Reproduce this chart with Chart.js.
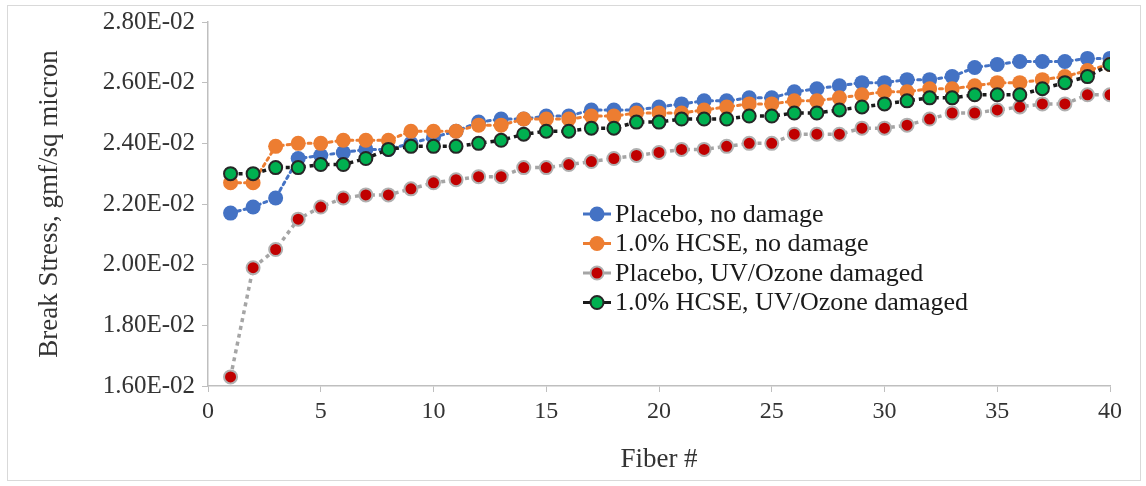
<!DOCTYPE html>
<html>
<head>
<meta charset="utf-8">
<script src="https://cdn.jsdelivr.net/npm/chart.js@4/dist/chart.umd.min.js"></script>
<style>
  html, body { margin: 0; padding: 0; background: #fff; }
  #wrap { position: relative; width: 1146px; height: 486px; }
  #frame { position: absolute; left: 7px; top: 5px; width: 1132px; height: 474px; border: 1px solid #d9d9d9; pointer-events: none; }
</style>
</head>
<body>
<div id="wrap">
  <canvas id="chart" width="1146" height="486"></canvas>
  <div id="frame"></div>
</div>
<script>
// fiber number on x
const fibers = [1,2,3,4,5,6,7,8,9,10,11,12,13,14,15,16,17,18,19,20,
                21,22,23,24,25,26,27,28,29,30,31,32,33,34,35,36,37,38,39,40];

// break stress, gmf/sq micron
const placeboNoDamage = [0.0217,0.0219,0.0222,0.0235,0.0236,0.0237,0.0238,0.0238,0.0240,0.0242,
                         0.0244,0.0247,0.0248,0.0248,0.0249,0.0249,0.0251,0.0251,0.0251,0.0252,
                         0.0253,0.0254,0.0254,0.0255,0.0255,0.0257,0.0258,0.0259,0.0260,0.0260,
                         0.0261,0.0261,0.0262,0.0265,0.0266,0.0267,0.0267,0.0267,0.0268,0.0268];
const hcseNoDamage    = [0.0227,0.0227,0.0239,0.0240,0.0240,0.0241,0.0241,0.0241,0.0244,0.0244,
                         0.0244,0.0246,0.0246,0.0248,0.0248,0.0248,0.0249,0.0249,0.0250,0.0250,
                         0.0250,0.0251,0.0252,0.0253,0.0253,0.0254,0.0254,0.0255,0.0256,0.0257,
                         0.0257,0.0258,0.0258,0.0259,0.0260,0.0260,0.0261,0.0262,0.0264,0.0266];
const placeboDamaged  = [0.0163,0.0199,0.0205,0.0215,0.0219,0.0222,0.0223,0.0223,0.0225,0.0227,
                         0.0228,0.0229,0.0229,0.0232,0.0232,0.0233,0.0234,0.0235,0.0236,0.0237,
                         0.0238,0.0238,0.0239,0.0240,0.0240,0.0243,0.0243,0.0243,0.0245,0.0245,
                         0.0246,0.0248,0.0250,0.0250,0.0251,0.0252,0.0253,0.0253,0.0256,0.0256];
const hcseDamaged     = [0.0230,0.0230,0.0232,0.0232,0.0233,0.0233,0.0235,0.0238,0.0239,0.0239,
                         0.0239,0.0240,0.0241,0.0243,0.0244,0.0244,0.0245,0.0245,0.0247,0.0247,
                         0.0248,0.0248,0.0248,0.0249,0.0249,0.0250,0.0250,0.0251,0.0252,0.0253,
                         0.0254,0.0255,0.0255,0.0256,0.0256,0.0256,0.0258,0.0260,0.0262,0.0266];

const seriesNames = ['Placebo, no damage', '1.0% HCSE, no damage',
                     'Placebo, UV/Ozone damaged', '1.0% HCSE, UV/Ozone damaged'];
const xTicks = [0, 5, 10, 15, 20, 25, 30, 35, 40];
const yTicks = [0.016, 0.018, 0.020, 0.022, 0.024, 0.026, 0.028];

const FONT = "'Liberation Serif', 'Times New Roman', serif";
const TXT = '#333333';

const pts = vals => vals.map((v, i) => ({ x: fibers[i], y: v }));

function sci(v) {
  const [m, e] = Number(v).toExponential(2).split('e');
  const sign = e[0] === '-' ? '-' : '+';
  return m + 'E' + sign + e.replace(/[+-]/, '').padStart(2, '0');
}

// legend drawn inside the plot, like the original
const insideLegend = {
  id: 'insideLegend',
  afterDatasetsDraw(chart) {
    const ctx = chart.ctx;
    const area = chart.chartArea;
    const x0 = area.left + 375;
    const y0 = area.top + 192;
    const rowH = 29.5;
    ctx.save();
    chart.data.datasets.forEach((ds, i) => {
      const y = y0 + i * rowH;
      ctx.beginPath();
      ctx.setLineDash([]);
      ctx.lineWidth = 3;
      ctx.strokeStyle = ds.borderColor;
      ctx.moveTo(x0, y);
      ctx.lineTo(x0 + 28, y);
      ctx.stroke();
      ctx.beginPath();
      ctx.arc(x0 + 14, y, ds.pointRadius, 0, Math.PI * 2);
      ctx.fillStyle = ds.pointBackgroundColor;
      ctx.fill();
      if (ds.pointBorderWidth) {
        ctx.lineWidth = ds.pointBorderWidth;
        ctx.strokeStyle = ds.pointBorderColor;
        ctx.stroke();
      }
      ctx.fillStyle = '#1a1a1a';
      ctx.font = '26px ' + FONT;
      ctx.textBaseline = 'middle';
      ctx.textAlign = 'left';
      ctx.fillText(ds.label, x0 + 32, y + 1);
    });
    ctx.restore();
  }
};

new Chart(document.getElementById('chart'), {
  type: 'line',
  data: {
    datasets: [
      {
        label: seriesNames[0],
        data: pts(placeboNoDamage),
        borderColor: '#4472C4',
        borderWidth: 3,
        borderDash: [3, 4],
        borderCapStyle: 'round',
        pointRadius: 7.5,
        pointBackgroundColor: '#4472C4',
        pointBorderColor: '#4472C4',
        pointBorderWidth: 0,
        order: 4
      },
      {
        label: seriesNames[1],
        data: pts(hcseNoDamage),
        borderColor: '#ED7D31',
        borderWidth: 3,
        borderDash: [3, 4],
        borderCapStyle: 'round',
        pointRadius: 7.5,
        pointBackgroundColor: '#ED7D31',
        pointBorderColor: '#ED7D31',
        pointBorderWidth: 0,
        order: 3
      },
      {
        label: seriesNames[2],
        data: pts(placeboDamaged),
        borderColor: '#A5A5A5',
        borderWidth: 3.5,
        borderDash: [4, 4],
        pointRadius: 6.5,
        pointBackgroundColor: '#C00000',
        pointBorderColor: '#B0B0B0',
        pointBorderWidth: 2,
        order: 2
      },
      {
        label: seriesNames[3],
        data: pts(hcseDamaged),
        borderColor: '#1a1a1a',
        borderWidth: 3.5,
        borderDash: [4, 4],
        pointRadius: 6.5,
        pointBackgroundColor: '#00B050',
        pointBorderColor: '#262626',
        pointBorderWidth: 2,
        order: 1
      }
    ]
  },
  options: {
    responsive: false,
    animation: false,
    layout: { padding: { left: 0, right: 36, top: 19, bottom: 0 } },
    plugins: { legend: { display: false }, tooltip: { enabled: false } },
    scales: {
      x: {
        type: 'linear',
        min: 0,
        max: 40,
        afterBuildTicks: s => { s.ticks = xTicks.map(v => ({ value: v })); },
        afterFit: s => { s.height = 100; },
        grid: { drawOnChartArea: false, tickLength: 6, tickColor: '#bfbfbf' },
        border: { color: '#bfbfbf', width: 1.5 },
        ticks: { color: TXT, font: { family: FONT, size: 24 }, padding: 5, maxRotation: 0 },
        title: { display: true, text: 'Fiber #', color: TXT, font: { family: FONT, size: 27 }, padding: { top: 0, bottom: 10 } }
      },
      y: {
        min: 0.016,
        max: 0.028,
        afterBuildTicks: s => { s.ticks = yTicks.map(v => ({ value: v })); },
        afterFit: s => { s.width = 208; },
        grid: { drawOnChartArea: false, tickLength: 6, tickColor: '#bfbfbf' },
        border: { color: '#bfbfbf', width: 1.5 },
        ticks: { color: TXT, font: { family: FONT, size: 25 }, padding: 7, callback: v => sci(v) },
        title: { display: true, text: 'Break Stress, gmf/sq micron', color: TXT, font: { family: FONT, size: 27 }, padding: { top: 34, bottom: 0 } }
      }
    }
  },
  plugins: [insideLegend]
});
</script>
</body>
</html>
